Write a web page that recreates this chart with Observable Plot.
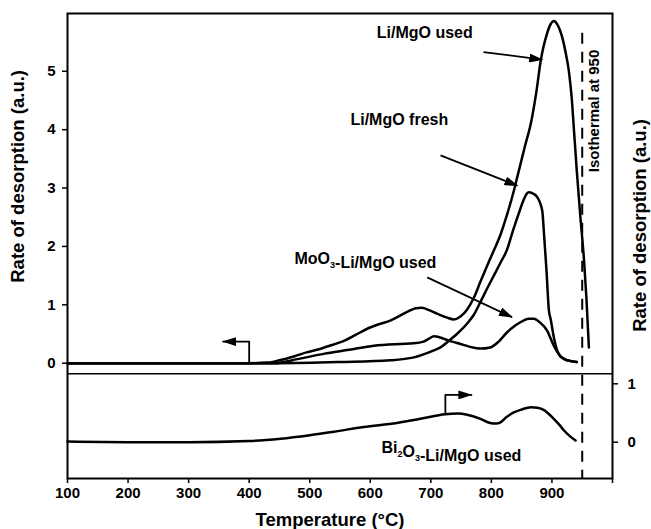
<!DOCTYPE html>
<html><head><meta charset="utf-8">
<script src="https://cdn.jsdelivr.net/npm/d3@7"></script>
<script src="https://cdn.jsdelivr.net/npm/@observablehq/plot@0.6"></script>
<style>body{margin:0;background:#fff}</style>
</head><body><div id="chart"></div>
<script>
// ---- data ----
const xTicks = [100,200,300,400,500,600,700,800,900,1000];
const leftTicks = [0,1,2,3,4,5];
const rightTicks = [0,1];

const usedT = [100,300,400,430,450,475,496,512,530,551,575,595,615,633,650,665,675,685,697,710,727,738,749,760,771,782,793,804,815,823,837,843,855,866,875,881,892,898,903,909,917,923,928,933,936,941,947,953,957,961];
const usedV = [0,0,0,0.01,0.05,0.12,0.19,0.23,0.29,0.36,0.48,0.59,0.67,0.73,0.82,0.9,0.94,0.95,0.91,0.85,0.78,0.75,0.8,0.92,1.12,1.4,1.67,1.93,2.2,2.45,2.95,3.2,3.7,4.15,4.7,5.15,5.65,5.81,5.86,5.8,5.58,5.3,5.0,4.5,4.05,3.3,2.5,1.76,1.1,0.27];

const freshT = [100,450,551,633,672,705,716,727,743,760,771,782,794,804,815,826,835,845,853,858,862,868,876,884,887,891,895,898,903,911,920,930,941];
const freshV = [0,0,0.02,0.05,0.1,0.22,0.27,0.36,0.5,0.68,0.83,1.05,1.3,1.5,1.72,1.95,2.25,2.56,2.79,2.9,2.93,2.91,2.84,2.61,2.2,1.59,0.9,0.75,0.45,0.16,0.07,0.04,0.02];

const moT = [100,441,480,523,565,606,650,672,688,697,705,713,721,735,749,765,782,798,812,826,840,853,862,870,880,892,903,914,925,941];
const moV = [0,0,0.07,0.16,0.23,0.3,0.33,0.34,0.37,0.42,0.46,0.45,0.42,0.37,0.33,0.28,0.25,0.27,0.37,0.53,0.65,0.73,0.76,0.76,0.7,0.56,0.3,0.12,0.05,0.02];

const biT = [100,200,300,400,452,500,540,589,644,683,724,745,760,782,798,808,815,825,837,850,865,876,887,903,912,920,930,939];
const biV = [0.01,0,0,0.02,0.06,0.12,0.18,0.26,0.33,0.4,0.48,0.49,0.47,0.4,0.33,0.32,0.34,0.43,0.51,0.56,0.6,0.59,0.55,0.4,0.3,0.2,0.1,0.03];

const isothermT = [950];
const seriesNames = ["Li/MgO used","Li/MgO fresh","MoO\u2083-Li/MgO used","Bi\u2082O\u2083-Li/MgO used"];

// ---- layout constants (panel geometry in top-panel units) ----
const Y_MIN = -1.975, Y_MAX = 5.99;
const DIVIDER = -0.18;        // boundary between panels
const BOTTOM_ZERO = -1.353;   // where the bottom panel's 0 sits
const ISO_TOP = 5.65;

const toRows = (name, T, V) => T.map((t, i) => ({series: name, T: t, v: V[i]}));
const topRows = [
  ...toRows(seriesNames[0], usedT, usedV),
  ...toRows(seriesNames[1], freshT, freshV),
  ...toRows(seriesNames[2], moT, moV)
];
const biRows = toRows(seriesNames[3], biT, biV);

const arrows = [
  {x1: 787, y1: 5.33, x2: 884, y2: 5.2},
  {x1: 716, y1: 3.56, x2: 843, y2: 3.04},
  {x1: 694, y1: 1.47, x2: 834, y2: 0.79}
];
const leftBracket = [{T:400, v:0}, {T:400, v:0.37}, {T:357, v:0.37}];
const rightBracket = [{T:724, w:0.49}, {T:724, w:0.81}, {T:767, w:0.81}];

const labels = [
  {text: seriesNames[0], T: 690, v: 5.65},
  {text: seriesNames[1], T: 648, v: 4.17},
  {text: seriesNames[2], T: 592, v: 1.78},
  {text: seriesNames[3], T: 734, v: -1.443}
];

const FONT = "'Liberation Sans', Arial, Helvetica, sans-serif";

const svg = Plot.plot({
  width: 651, height: 529,
  marginLeft: 67, marginRight: 39, marginTop: 13, marginBottom: 51,
  x: {domain: [100, 1000]},
  y: {domain: [Y_MIN, Y_MAX]},
  style: {fontFamily: FONT, fontWeight: "bold", color: "black", background: "white"},
  marks: [
    Plot.ruleY([DIVIDER], {stroke: "black", strokeWidth: 1.5}),
    Plot.ruleX(isothermT, {y1: ISO_TOP, y2: Y_MIN, stroke: "black", strokeWidth: 2, strokeDasharray: "11,8"}),
    Plot.line(topRows, {x: "T", y: "v", z: "series", curve: "monotone-x", stroke: "black", strokeWidth: 2.5}),
    Plot.line(biRows, {x: "T", y: d => d.v + BOTTOM_ZERO, curve: "monotone-x", stroke: "black", strokeWidth: 2.5}),
    Plot.link(arrows, {x1: "x1", y1: "y1", x2: "x2", y2: "y2", stroke: "black", strokeWidth: 1.8, className: "arr"}),
    Plot.line(leftBracket, {x: "T", y: "v", stroke: "black", strokeWidth: 1.8, className: "arr"}),
    Plot.line(rightBracket, {x: "T", y: d => d.w + BOTTOM_ZERO, stroke: "black", strokeWidth: 1.8, className: "arr"}),
    Plot.text(labels, {x: "T", y: "v", text: "text", fontSize: 16, fontWeight: "bold", fontFamily: FONT, fill: "black", className: "ann"}),
    Plot.text(["Isothermal at 950"], {x: 970, y: 4.32, text: d => d, rotate: -90, textAnchor: "middle", fontSize: 15, fontWeight: "bold", fontFamily: FONT, fill: "black"}),
    Plot.frame({stroke: "black", strokeWidth: 2}),
    Plot.axisX(xTicks, {anchor: "bottom", tickSize: 5, tickPadding: 4, strokeWidth: 1.5, tickFormat: d => d === 1000 ? "" : String(d), label: null, fontSize: 15, fontWeight: "bold", fontFamily: FONT}),
    Plot.axisY(leftTicks, {anchor: "left", tickSize: 5, tickPadding: 7, strokeWidth: 1.5, tickFormat: d => String(d), label: null, fontSize: 15, fontWeight: "bold", fontFamily: FONT}),
    Plot.axisY(rightTicks.map(t => t + BOTTOM_ZERO), {anchor: "right", tickSize: 5, tickPadding: 10, strokeWidth: 1.5, tickFormat: d => String(Math.round(d - BOTTOM_ZERO)), label: null, fontSize: 15, fontWeight: "bold", fontFamily: FONT}),
    Plot.text(["Rate of desorption (a.u.)"], {frameAnchor: "left", y: 3.2, dx: -49, rotate: -90, textAnchor: "middle", lineAnchor: "middle", text: d => d, fontSize: 18.5, fontWeight: "bold", fontFamily: FONT, fill: "black"}),
    Plot.text(["Rate of desorption (a.u.)"], {frameAnchor: "right", y: 2.36, dx: 28, rotate: -90, textAnchor: "middle", lineAnchor: "middle", text: d => d, fontSize: 18.5, fontWeight: "bold", fontFamily: FONT, fill: "black"}),
    Plot.text(["Temperature (\u00B0C)"], {frameAnchor: "bottom", dx: -10, dy: 42, textAnchor: "middle", lineAnchor: "middle", text: d => d, fontSize: 18.5, fontWeight: "bold", fontFamily: FONT, fill: "black"})
  ]
});

const root = d3.select(svg);

// filled arrowheads
root.append("defs").append("marker")
  .attr("id", "ah").attr("viewBox", "0 0 14 9").attr("refX", 13).attr("refY", 4.5)
  .attr("markerWidth", 14).attr("markerHeight", 9).attr("markerUnits", "userSpaceOnUse").attr("orient", "auto")
  .append("path").attr("d", "M0,0L14,4.5L0,9Z").attr("fill", "black");
root.selectAll(".arr path, .arr line").attr("marker-end", "url(#ah)");

// small real subscripts for chemical formulas
const subMap = {"\u2082": "2", "\u2083": "3"};
root.selectAll(".ann text").each(function() {
  const el = d3.select(this);
  const s = el.text();
  if (!/[\u2082\u2083]/.test(s)) return;
  el.text(null);
  let buf = "";
  for (const ch of s) {
    if (subMap[ch]) {
      if (buf) { el.append("tspan").text(buf); buf = ""; }
      el.append("tspan").attr("font-size", 9).attr("dy", 4).text(subMap[ch]);
      el.append("tspan").attr("dy", -4).text("");
    } else buf += ch;
  }
  if (buf) el.append("tspan").text(buf);
});

document.getElementById("chart").appendChild(svg);
</script>
</body></html>
